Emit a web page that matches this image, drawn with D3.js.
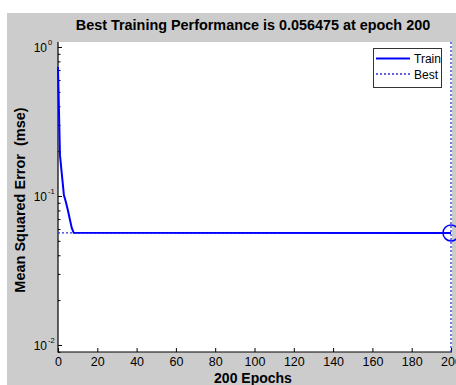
<!DOCTYPE html>
<html>
<head>
<meta charset="utf-8">
<script src="https://cdn.jsdelivr.net/npm/d3@7"></script>
<style>
  body { margin: 0; background: #fff; }
  text { font-family: "Liberation Sans", Arial, sans-serif; white-space: pre; }
</style>
</head>
<body>
<svg id="chart" width="456" height="385"></svg>
<script>
// training record (epoch -> mse)
const trainEpochs = [0, 1, 2, 3, 4, 5, 6, 7, 8, 200];
const trainPerf = [0.734, 0.188, 0.138, 0.1016, 0.0912, 0.0805, 0.0701, 0.0610, 0.0566, 0.056475];
const bestEpoch = 200;
const bestPerf = 0.056475;
const xTicks = [0, 20, 40, 60, 80, 100, 120, 140, 160, 180, 200];
const yMajor = [1, 0.1, 0.01];
const yExp = ["0", "-1", "-2"];
const legendNames = ["Train", "Best"];

const svg = d3.select("#chart");
const W = 456, H = 385;
const pLeft = 58, pRight = 451, pTop = 42, pBottom = 352;

// gray figure background (white strip at top / left like the screenshot crop)
svg.append("rect").attr("x", 7).attr("y", 13).attr("width", W - 7).attr("height", H - 13).attr("fill", "#cccccc");
svg.append("rect").attr("x", pLeft).attr("y", pTop).attr("width", pRight + 1 - pLeft).attr("height", pBottom - pTop).attr("fill", "#fff");

const x = d3.scaleLinear().domain([0, 200]).range([pLeft, pRight]);
const y = d3.scaleLog().domain([0.00897, 1.08]).range([pBottom, pTop]);

// minor ticks for the log axis
const yMinor = [];
[0.1, 0.01, 0.001].forEach(d => {
  for (let k = 2; k <= 9; k++) {
    const v = d * k;
    if (v <= 1.08 && v >= 0.00897) yMinor.push(v);
  }
});

const g = svg.append("g");

// y axis ticks (pointing inward)
g.append("g")
  .attr("transform", `translate(${pLeft},0)`)
  .call(d3.axisLeft(y).tickValues(yMajor).tickSizeInner(-4).tickSizeOuter(0).tickFormat(""))
  .call(a => a.select(".domain").remove())
  .call(a => a.selectAll("line").attr("stroke", "#000"));
g.append("g")
  .attr("transform", `translate(${pLeft},0)`)
  .call(d3.axisLeft(y).tickValues(yMinor).tickSizeInner(-2.5).tickSizeOuter(0).tickFormat(""))
  .call(a => a.select(".domain").remove())
  .call(a => a.selectAll("line").attr("stroke", "#000"));

// y tick labels 10^n
yMajor.forEach((v, i) => {
  g.append("text").attr("x", 47).attr("y", y(v) + 5).attr("text-anchor", "end")
    .attr("font-size", 12).attr("fill", "#000").text("10");
  g.append("text").attr("x", 48).attr("y", y(v) - 2).attr("text-anchor", "start")
    .attr("font-size", 7.5).attr("fill", "#000").text(yExp[i]);
});

// x axis
g.append("g")
  .attr("transform", `translate(0,${pBottom})`)
  .call(d3.axisBottom(x).tickValues(xTicks).tickSizeInner(-4).tickSizeOuter(0).tickFormat(d3.format("d")))
  .call(a => a.select(".domain").remove())
  .call(a => a.selectAll("line").attr("stroke", "#000"))
  .call(a => a.selectAll("text").attr("y", 5).attr("dy", "0.71em")
    .attr("font-size", 12.5).attr("font-family", "Liberation Sans, Arial, sans-serif").attr("fill", "#000"));

// axis lines (box off)
g.append("line").attr("x1", pLeft).attr("x2", pLeft).attr("y1", pTop).attr("y2", pBottom + 0.5).attr("stroke", "#000").attr("stroke-width", 1.2);
g.append("line").attr("x1", pLeft).attr("x2", pRight + 1).attr("y1", pBottom).attr("y2", pBottom).attr("stroke", "#000").attr("stroke-width", 1.2);

// best lines
const bestStyle = sel => sel.attr("stroke", "#3030d8").attr("stroke-width", 1.3).attr("stroke-dasharray", "2,2").attr("fill", "none");
g.append("line").attr("x1", x(0)).attr("x2", x(200)).attr("y1", y(bestPerf)).attr("y2", y(bestPerf)).call(bestStyle);
g.append("line").attr("x1", x(bestEpoch)).attr("x2", x(bestEpoch)).attr("y1", pTop).attr("y2", pBottom).call(bestStyle);

// train curve
const line = d3.line().x((d, i) => x(trainEpochs[i])).y(d => y(d));
g.append("path").datum(trainPerf).attr("d", line)
  .attr("fill", "none").attr("stroke", "#0000ff").attr("stroke-width", 2);

// best marker
g.append("circle").attr("cx", x(bestEpoch)).attr("cy", y(bestPerf)).attr("r", 8)
  .attr("fill", "none").attr("stroke", "#0000ff").attr("stroke-width", 1.5);

// legend
const lg = g.append("g");
lg.append("rect").attr("x", 373.5).attr("y", 48.5).attr("width", 68).attr("height", 39)
  .attr("fill", "#fff").attr("stroke", "#333").attr("stroke-width", 1);
legendNames.forEach((name, i) => {
  const ly = 58.5 + i * 15.5;
  const l = lg.append("line").attr("x1", 376).attr("x2", 410).attr("y1", ly).attr("y2", ly);
  if (i === 0) l.attr("stroke", "#0000ff").attr("stroke-width", 2);
  else l.call(bestStyle);
  lg.append("text").attr("x", 414).attr("y", ly + 4.5).attr("font-size", 12).attr("fill", "#000").text(name);
});

// title and labels
svg.append("text").attr("x", 253).attr("y", 30).attr("text-anchor", "middle")
  .attr("font-size", 14.4).attr("font-weight", "bold").attr("fill", "#000")
  .text(`Best Training Performance is ${bestPerf} at epoch ${bestEpoch}`);
svg.append("text").attr("x", 253).attr("y", 383).attr("text-anchor", "middle")
  .attr("font-size", 14).attr("font-weight", "bold").attr("fill", "#000")
  .text(`${trainEpochs[trainEpochs.length - 1]} Epochs`);
svg.append("text").attr("transform", "translate(25,200) rotate(-90)").attr("text-anchor", "middle")
  .attr("font-size", 14.5).attr("font-weight", "bold").attr("fill", "#000")
  .text("Mean Squared Error  (mse)");
</script>
</body>
</html>
